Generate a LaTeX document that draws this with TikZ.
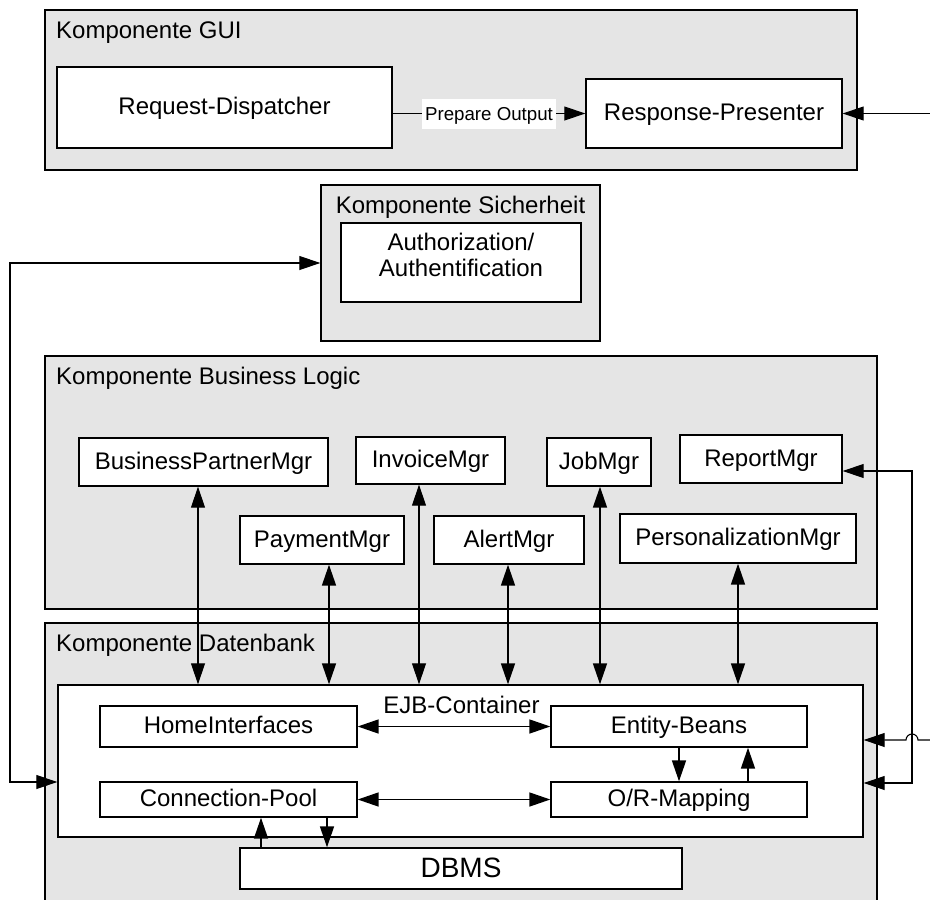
\documentclass[tikz,border=0pt]{standalone}
\usepackage{fontspec}
\setmainfont{Liberation Sans}
\usetikzlibrary{arrows.meta}

\tikzset{
  comp/.style={draw, fill=gray!20, line width=1.4pt, inner sep=0pt},
  wbox/.style={draw, fill=white, line width=1.4pt, inner sep=0pt,
               text height=18pt, text depth=4pt},
  title/.style={anchor=base west, inner sep=0pt},
  tipend/.style={-{Triangle[length=21pt,width=14pt]}},
  tipboth/.style={{Triangle[length=21pt,width=14pt]}-{Triangle[length=21pt,width=14pt]}},
  lnthin/.style={line width=1.1pt},
  lnheavy/.style={line width=1.7pt},
}

\begin{document}
\begin{tikzpicture}[x=1pt, y=-1pt, font=\fontsize{24}{26}\selectfont]
\useasboundingbox (0,0) rectangle (930,900);
\clip (0,0) rectangle (930,900);

% component frames
\node[comp, minimum width=812pt, minimum height=160pt] (gui) at (451,90) {};
\node[title] (guit) at (56,38) {Komponente GUI};
\node[comp, minimum width=279pt, minimum height=156pt] (sich) at (460.5,263) {};
\node[anchor=base, inner sep=0pt] (sicht) at (460.5,213) {Komponente Sicherheit};
\node[comp, minimum width=832pt, minimum height=253pt] (bl) at (461,482.5) {};
\node[title] (blt) at (56,384) {Komponente Business Logic};
\node[comp, minimum width=832pt, minimum height=290pt] (db) at (461,768) {};
\node[title] (dbt) at (56,651) {Komponente Datenbank};

% GUI
\node[wbox, minimum width=335pt, minimum height=81pt] (rd) at (224.5,107.5) {Request-Dispatcher};
\node[wbox, minimum width=256pt, minimum height=69pt] (rp) at (714,113.5) {Response-Presenter};

% security
\node[wbox, minimum width=240pt, minimum height=79pt] (auth) at (461,262.5) {};
\node[align=center, inner sep=0pt] (autht) at (461,255) {Authorization/\\Authentification};

% business logic managers
\node[wbox, minimum width=249pt, minimum height=48pt] (bpm) at (203.5,462) {BusinessPartnerMgr};
\node[wbox, minimum width=149pt, minimum height=47pt] (inv) at (430.5,460.5) {InvoiceMgr};
\node[wbox, minimum width=104pt, minimum height=48pt] (job) at (599,462) {JobMgr};
\node[wbox, minimum width=162pt, minimum height=48pt] (rep) at (761,459) {ReportMgr};
\node[wbox, minimum width=164pt, minimum height=48pt] (pay) at (322,540) {PaymentMgr};
\node[wbox, minimum width=150pt, minimum height=48pt] (alert) at (509,540) {AlertMgr};
\node[wbox, minimum width=236pt, minimum height=49pt] (pers) at (738,538.5) {PersonalizationMgr};

% database
\node[wbox, minimum width=805pt, minimum height=152pt] (ejb) at (460.5,761) {};
\node[anchor=base, inner sep=0pt] (ejbt) at (461.5,713) {EJB-Container};
\node[wbox, minimum width=257pt, minimum height=41pt] (home) at (228.5,726.5) {HomeInterfaces};
\node[wbox, minimum width=256pt, minimum height=41pt] (ent) at (679,726.5) {Entity-Beans};
\node[wbox, minimum width=257pt, minimum height=35pt] (cp) at (228.5,799.5) {Connection-Pool};
\node[wbox, minimum width=256pt, minimum height=35pt] (orm) at (679,799.5) {O/R-Mapping};
\node[wbox, minimum width=442pt, minimum height=41pt, text height=22pt,
      font=\fontsize{28}{30}\selectfont] (dbms) at (461,868.5) {DBMS};

% GUI connectors
\draw[lnthin, tipend] (rd.east |- rp.west) -- (rp.west)
  node[midway, fill=white, inner xsep=3.5pt, inner ysep=4pt, text height=17.7pt,
       text depth=4.3pt, font=\fontsize{18.7}{20}\selectfont] (po) {Prepare Output};
\coordinate (rpin) at (930,113.5);
\draw[lnthin, tipend] (rpin) -- (rp.east);

% security loop on the left
\coordinate (lt) at (10,263);
\coordinate (lb) at (10,782);
\draw[lnthin, tipboth] (sich.west) -- (lt) -- (lb) -- (lb -| ejb.west);

% managers to EJB container
\draw[lnthin, tipboth] ([xshift=-5.5pt]bpm.south) -- ([xshift=-5.5pt]bpm.south |- ejb.north);
\draw[lnheavy, tipboth] ([xshift=7pt]pay.south) -- ([xshift=7pt]pay.south |- ejb.north);
\draw[lnthin, tipboth] ([xshift=-11.5pt]inv.south) -- ([xshift=-11.5pt]inv.south |- ejb.north);
\draw[lnheavy, tipboth] ([xshift=-1pt]alert.south) -- ([xshift=-1pt]alert.south |- ejb.north);
\draw[lnheavy, tipboth] ([xshift=1pt]job.south) -- ([xshift=1pt]job.south |- ejb.north);
\draw[lnheavy, tipboth] (pers.south) -- (pers.south |- ejb.north);

% report loop on the right
\coordinate (rt) at (912,471);
\coordinate (rb) at (912,783);
\draw[lnthin, tipboth] ([yshift=-12pt]rep.east) -- (rt) -- (rb) -- (rb -| ejb.east);
\coordinate (ejbin) at (930,740);
\draw[lnthin, tipend] (ejbin) -- (918,740) arc[start angle=0, end angle=180, radius=6pt]
  -- (ejbin -| ejb.east);

% inside the container
\draw[lnheavy, tipboth] (home.east) -- (ent.west);
\draw[lnheavy, tipboth] (cp.east) -- (orm.west);
\draw[lnheavy, tipend] (ent.south) -- (orm.north);
\draw[lnheavy, tipend] ([xshift=69pt]orm.north) -- ([xshift=69pt]ent.south);
\draw[lnheavy, tipend] ([xshift=32.5pt]cp.south |- dbms.north) -- ([xshift=32.5pt]cp.south);
\draw[lnheavy, tipend] ([xshift=98.5pt]cp.south) -- ([xshift=98.5pt]cp.south |- dbms.north);

\end{tikzpicture}
\end{document}
